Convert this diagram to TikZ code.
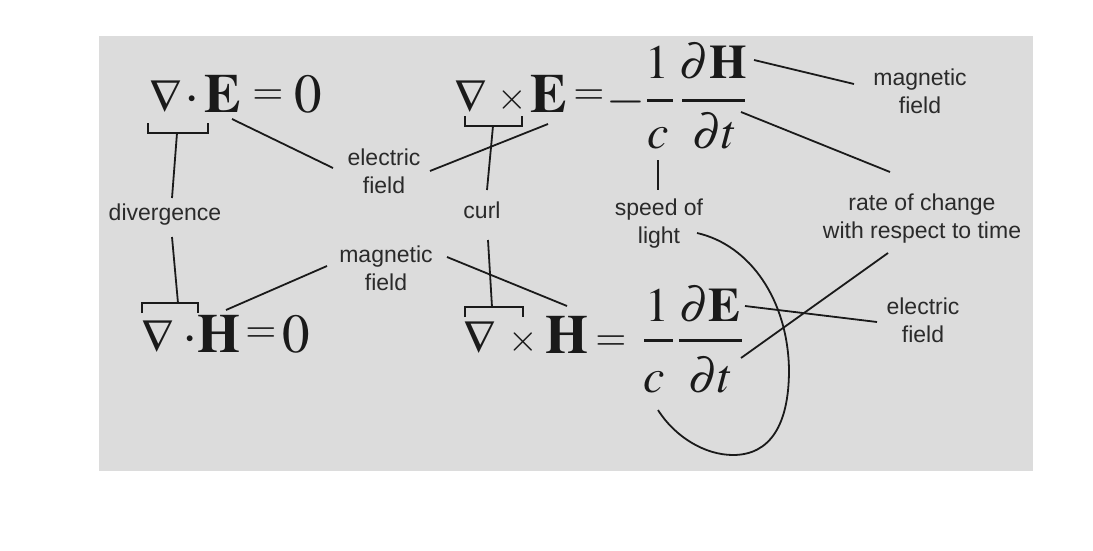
\documentclass[tikz,border=0pt]{standalone}
\usepackage{mathptmx}
\usepackage[no-math]{fontspec}
\newfontfamily\lab{Liberation Sans}
\definecolor{bgc}{HTML}{DCDCDC}
\definecolor{inkc}{HTML}{1A1A1A}
\definecolor{labc}{HTML}{2A2A2A}
\tikzset{
  eqf/.style={font=\fontsize{55}{60}\selectfont, inner sep=0pt, anchor=base, text=inkc},
  frc/.style={eqf, font=\fontsize{48}{52}\selectfont},
  nab/.style={eqf, font=\fontsize{46}{50}\selectfont},
  tms/.style={eqf, font=\fontsize{38}{40}\selectfont},
  rel/.style={eqf, font=\fontsize{40}{44}\selectfont},
  lbl/.style={font=\lab\fontsize{23}{28}\selectfont, align=center, text=labc, inner sep=0pt},
  ln/.style={draw=inkc, line width=1.8pt},
  fbar/.style={draw=inkc, line width=3pt},
}
\begin{document}
\begin{tikzpicture}[x=1pt,y=-1pt]
\useasboundingbox (0,0) rectangle (1093,551);
\fill[bgc] (99,36) rectangle (1033,471);

% equation 1
\node[nab] (n1) at (166,112) {$\nabla$};
\node[eqf] (d1) at (192,112) {$\cdot$};
\node[eqf] (E1) at (223,112) {$\mathbf{E}$};
\node[rel] (q1) at (268,104) {$=$};
\node[eqf] (z1) at (308,112) {$0$};

% equation 2
\node[nab] (n2) at (471,112) {$\nabla$};
\node[tms] (x2) at (512,110) {$\times$};
\node[eqf] (E2) at (549,112) {$\mathbf{E}$};
\node[rel] (q2) at (589,104) {$=$};
\node[eqf, font=\fontsize{50}{54}\selectfont] (m2) at (626,114) {$-$};
\node[frc] (o2) at (657,78) {$1$};
\node[frc] (c2) at (658,148) {$c$};
\node[frc] (dH) at (713,78) {$\partial\mathbf{H}$};
\node[frc] (dt2) at (715,148) {$\partial t$};
\draw[fbar] (647,101) -- (673,101);
\draw[fbar] (682,101) -- (745,101);

% equation 3
\node[nab] (n3) at (158,352) {$\nabla$};
\node[eqf] (d3) at (190,352) {$\cdot$};
\node[eqf] (H3) at (219,352) {$\mathbf{H}$};
\node[rel] (q3) at (261,342) {$=$};
\node[eqf] (z3) at (296,352) {$0$};

% equation 4
\node[nab] (n4) at (480,353) {$\nabla$};
\node[tms] (x4) at (523,351) {$\times$};
\node[eqf] (H4) at (567,353) {$\mathbf{H}$};
\node[rel] (q4) at (611,350) {$=$};
\node[frc] (o4) at (657,321) {$1$};
\node[frc] (c4) at (654,392) {$c$};
\node[frc] (dE) at (710,321) {$\partial\mathbf{E}$};
\node[frc] (dt4) at (711,392) {$\partial t$};
\draw[fbar] (644,340) -- (673,340);
\draw[fbar] (679,340) -- (742,340);

% labels
\node[lbl] (elecL) at (384,171) {electric\\field};
\node[lbl] (div) at (165,215) {divergence};
\node[lbl] (curl) at (482,210) {curl};
\node[lbl] (speed) at (659,224) {speed of\\light};
\node[lbl] (magM) at (386,268) {magnetic\\field};
\node[lbl] (magT) at (920,91) {magnetic\\field};
\node[lbl] (rate) at (922,219) {rate of change\\with respect to time};
\node[lbl] (elecR) at (923,320) {electric\\field};

% connector end points
\coordinate (b1) at (177,133);
\coordinate (divT) at (172,198);
\coordinate (divB) at (172,237);
\coordinate (b3) at (178,303);
\coordinate (b2) at (493,126);
\coordinate (curlT) at (487,190);
\coordinate (curlB) at (488,240);
\coordinate (b4) at (492,307);
\coordinate (E1r) at (232,119);
\coordinate (elecLa) at (333,168);
\coordinate (elecLb) at (430,171);
\coordinate (E2b) at (548,124);
\coordinate (magMa) at (327,266);
\coordinate (H3t) at (226,310);
\coordinate (magMb) at (447,257);
\coordinate (H4t) at (567,306);
\coordinate (dHr) at (754,60);
\coordinate (magTl) at (854,84);
\coordinate (dt2r) at (741,112);
\coordinate (rateT) at (890,172);
\coordinate (c2b) at (658,160);
\coordinate (speedT) at (658,190);
\coordinate (rateB) at (888,253);
\coordinate (dt4r) at (741,358);
\coordinate (dEr) at (745,306);
\coordinate (elecRl) at (877,322);
\coordinate (lightR) at (697,233);
\coordinate (c4b) at (658,410);

% brackets
\draw[ln] (148,123) -- (148,133) -- (208,133) -- (208,123);
\draw[ln] (142,313) -- (142,303) -- (198,303) -- (198,313);
\draw[ln] (465,116) -- (465,126) -- (522,126) -- (522,116);
\draw[ln] (465,317) -- (465,307) -- (523,307) -- (523,317);

% connectors
\draw[ln] (b1) -- (divT);
\draw[ln] (divB) -- (b3);
\draw[ln] (b2) -- (curlT);
\draw[ln] (curlB) -- (b4);
\draw[ln] (E1r) -- (elecLa);
\draw[ln] (elecLb) -- (E2b);
\draw[ln] (magMa) -- (H3t);
\draw[ln] (magMb) -- (H4t);
\draw[ln] (dHr) -- (magTl);
\draw[ln] (dt2r) -- (rateT);
\draw[ln] (c2b) -- (speedT);
\draw[ln] (rateB) -- (dt4r);
\draw[ln] (dEr) -- (elecRl);
\draw[ln] (lightR) .. controls (750,245) and (788,300) .. (789,370)
  .. controls (789,425) and (770,455) .. (733,455)
  .. controls (705,455) and (675,437) .. (c4b);
\end{tikzpicture}
\end{document}
